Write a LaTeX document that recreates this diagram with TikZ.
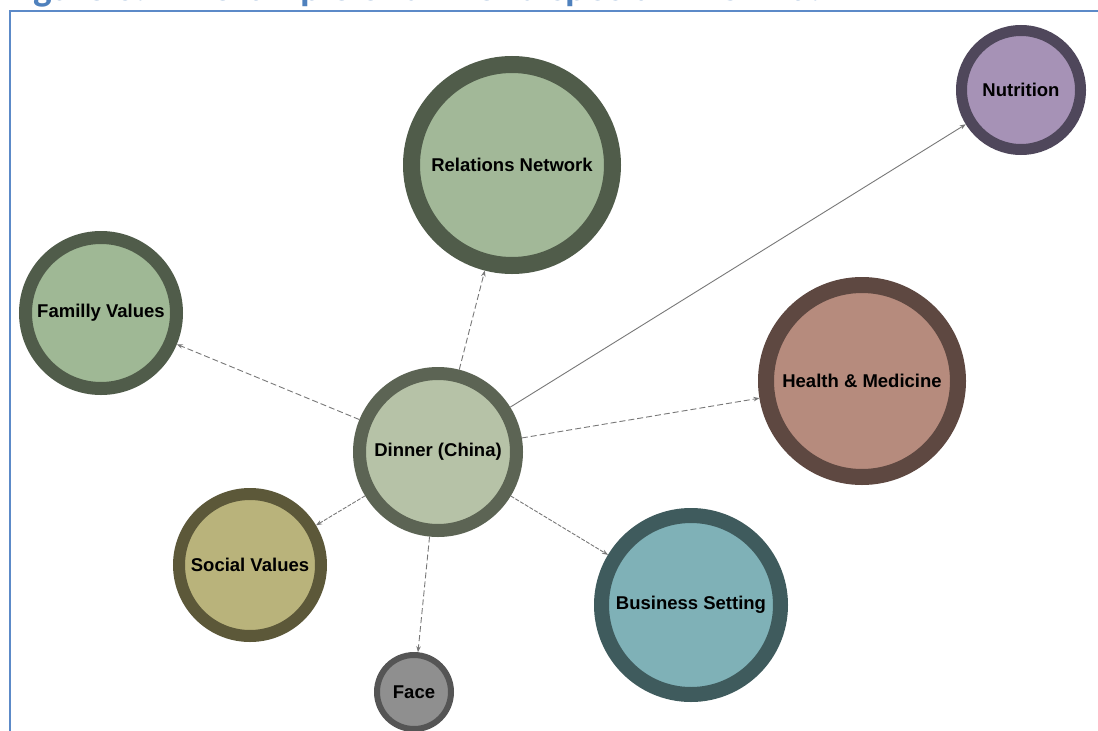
\documentclass[tikz,border=0pt]{standalone}
\usepackage{fontspec}
\setmainfont{Liberation Sans}
\newfontfamily\captionfont{Carlito}
\usetikzlibrary{arrows.meta}

% bubble palette: fill and ring of each topic
\definecolor{dinFill}{RGB}{182,194,167}  \definecolor{dinRing}{RGB}{92,100,84}
\definecolor{famFill}{RGB}{159,184,149}  \definecolor{famRing}{RGB}{80,92,74}
\definecolor{relFill}{RGB}{162,184,152}  \definecolor{relRing}{RGB}{80,92,74}
\definecolor{socFill}{RGB}{185,179,123}  \definecolor{socRing}{RGB}{92,88,57}
\definecolor{facFill}{RGB}{143,143,143}  \definecolor{facRing}{RGB}{85,85,85}
\definecolor{busFill}{RGB}{127,177,183}  \definecolor{busRing}{RGB}{63,91,93}
\definecolor{heaFill}{RGB}{182,139,125}  \definecolor{heaRing}{RGB}{94,72,65}
\definecolor{nutFill}{RGB}{166,146,182}  \definecolor{nutRing}{RGB}{79,71,91}
\definecolor{linkGray}{RGB}{120,120,120}
\definecolor{captionBlue}{RGB}{79,129,189}
\definecolor{frameBlue}{RGB}{92,138,200}

\tikzset{
  bubble/.style 2 args={circle, draw=#1, fill=#2, inner sep=0pt, text=black,
    font=\bfseries\fontsize{18.5}{22}\selectfont},
  link/.style={draw=linkGray, line width=0.9pt, -{Stealth[length=6pt,width=4.5pt]}},
  dashlink/.style={link, dash pattern=on 6pt off 3pt},
  finelink/.style={link, dash pattern=on 4pt off 1.5pt},
}

\begin{document}
\begin{tikzpicture}[x=1pt,y=-1pt]
\useasboundingbox (0,0) rectangle (1098,731);
\clip (0,0) rectangle (1098,731);
\fill[white] (0,0) rectangle (1098,731);

% caption line running off the top edge
\node[anchor=base west, inner sep=0pt, text=captionBlue,
      font=\captionfont\bfseries\fontsize{39.5}{46}\selectfont] (caption) at (5,0)
      {Figure 6: An example of dinner dispositif in China.};

% frame of the figure box
\draw[frameBlue, line width=2pt] (10,731) -- (10,11) -- (1098,11);

% topic bubbles
\node[bubble={dinRing}{dinFill}, line width=13pt, minimum size=157pt] (din) at (438,452) {Dinner (China)};
\node[bubble={famRing}{famFill}, line width=13pt, minimum size=151pt] (fam) at (101,313) {Familly Values};
\node[bubble={relRing}{relFill}, line width=17pt, minimum size=201pt] (rel) at (512,165) {Relations Network};
\node[bubble={socRing}{socFill}, line width=12pt, minimum size=142pt] (soc) at (250,565) {Social Values};
\node[bubble={facRing}{facFill}, line width=6pt, minimum size=74pt] (fac) at (414,692) {Face};
\node[bubble={busRing}{busFill}, line width=15pt, minimum size=179pt] (bus) at (691,605) {Business Setting};
\node[bubble={heaRing}{heaFill}, line width=16pt, minimum size=192pt] (hea) at (862,381) {Health \& Medicine};
\node[bubble={nutRing}{nutFill}, line width=11pt, minimum size=119pt] (nut) at (1021,90) {Nutrition};

% connectors from the central dinner bubble
\draw[dashlink] (din) -- (rel);
\draw[dashlink] (din) -- (fam);
\draw[link] (din) -- (nut);
\draw[dashlink] (din) -- (hea);
\draw[finelink] (din) -- (bus);
\draw[finelink] (din) -- (soc);
\draw[dashlink] (din) -- (fac);
\end{tikzpicture}
\end{document}
